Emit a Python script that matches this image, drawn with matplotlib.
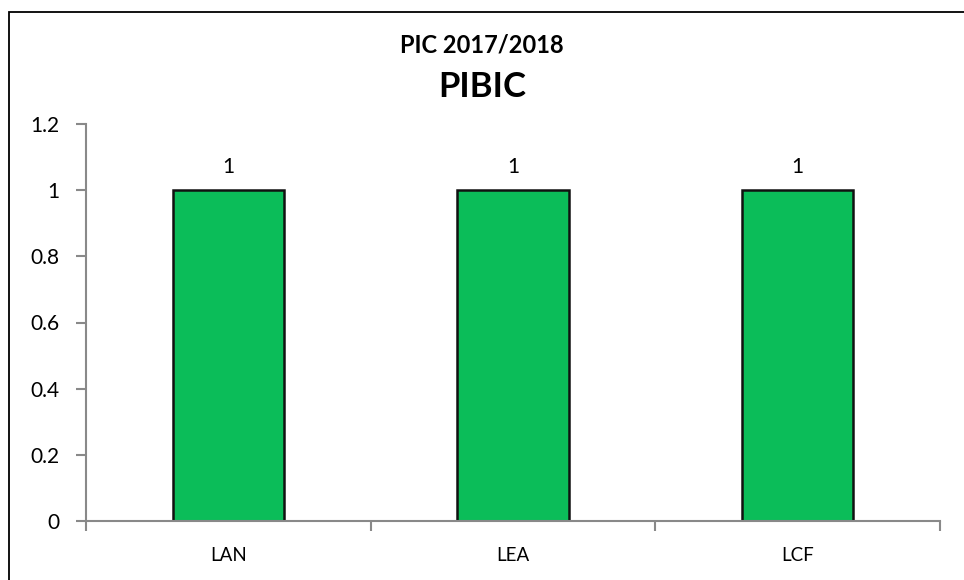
import matplotlib.pyplot as plt
from matplotlib.patches import Rectangle

# dados do gráfico
cursos = ['LAN', 'LEA', 'LCF']
valores = [1, 1, 1]
yticks = [0, 0.2, 0.4, 0.6, 0.8, 1, 1.2]
ytick_labels = ['0', '0.2', '0.4', '0.6', '0.8', '1', '1.2']

plt.rcParams['font.family'] = ['Lato', 'DejaVu Sans']

fig = plt.figure(figsize=(9.64, 5.8), dpi=100)
ax = fig.add_axes([86 / 964, 1 - 521 / 580, (940 - 86) / 964, (521 - 124) / 580])

# moldura do gráfico (cortada à direita e embaixo)
fig.patches.append(Rectangle((9 / 964, -0.1), 1.2, 1 - 12 / 580 + 0.1,
                             transform=fig.transFigure, fill=False,
                             edgecolor='black', linewidth=1.3))

x = range(len(cursos))
barras = ax.bar(x, valores, width=0.39, color='#0BBD59', edgecolor='#111111', linewidth=1.8)

for b, v in zip(barras, valores):
    ax.text(b.get_x() + b.get_width() / 2, v + 0.04, str(v),
            ha='center', va='bottom', fontsize=15)

ax.set_xlim(-0.5, len(cursos) - 0.5)
ax.set_ylim(0, 1.2)
ax.set_yticks(yticks)
ax.set_yticklabels(ytick_labels, fontsize=15)
ax.set_xticks(list(x))
ax.set_xticklabels(cursos, fontsize=13.5)
ax.tick_params(axis='x', length=0, pad=19)
ax.set_xticks([-0.5, 0.5, 1.5, 2.5], minor=True)
ax.tick_params(axis='x', which='minor', length=7, color='#898989', width=1.5)
ax.tick_params(axis='y', length=7, color='#898989', width=1.5, pad=12)

for s in ['top', 'right']:
    ax.spines[s].set_visible(False)
for s in ['left', 'bottom']:
    ax.spines[s].set_color('#898989')
    ax.spines[s].set_linewidth(1.5)

fig.text(0.5, 1 - 45 / 580, 'PIC 2017/2018', ha='center', va='center',
         fontsize=17, fontweight='bold')
fig.text(0.5, 1 - 87 / 580, 'PIBIC', ha='center', va='center',
         fontsize=25, fontweight='bold')

fig.savefig('out.png', dpi=100)
